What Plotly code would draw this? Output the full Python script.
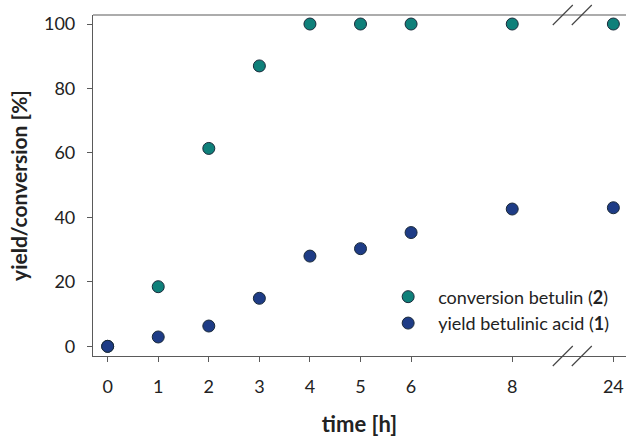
import plotly.graph_objects as go

time_h = [0, 1, 2, 3, 4, 5, 6, 8, 24]
conversion_betulin = [0, 18.5, 61.4, 87.0, 100, 100, 100, 100, 100]
yield_betulinic = [0, 2.9, 6.3, 14.9, 28.0, 30.3, 35.3, 42.6, 43.0]
x_ticklabels = ["0", "1", "2", "3", "4", "5", "6", "8", "24"]
y_ticks = [0, 20, 40, 60, 80, 100]

BREAK_AFTER = 8   # axis is broken between 8 h and 24 h
BREAK_GAP = 2     # width (in hour units) given to the break


def axis_pos(t):
    return t if t <= BREAK_AFTER else BREAK_AFTER + BREAK_GAP


xpos = [axis_pos(t) for t in time_h]

teal = "#0f807a"
navy = "#1e3c86"
edge = "#1a2a3a"
font_family = "Lato, 'Open Sans', sans-serif"

fig = go.Figure()
fig.add_trace(go.Scatter(
    x=xpos, y=conversion_betulin, mode="markers",
    name="conversion betulin (<b>2</b>)",
    marker=dict(size=12, color=teal, line=dict(color=edge, width=1)),
))
fig.add_trace(go.Scatter(
    x=xpos, y=yield_betulinic, mode="markers",
    name="yield betulinic acid (<b>1</b>)",
    marker=dict(size=12, color=navy, line=dict(color=edge, width=1)),
))

axis_col = "#5a5a5a"
fig.update_layout(
    width=627, height=437,
    margin=dict(l=93, r=1, t=15, b=81),
    paper_bgcolor="white", plot_bgcolor="white",
    font=dict(family=font_family, color="#222222", size=18),
    showlegend=True,
    legend=dict(x=0.535, y=0.135, xanchor="left", yanchor="middle",
                font=dict(size=18, color="#222222"),
                bgcolor="rgba(0,0,0,0)", itemwidth=50,
                tracegroupgap=0),
    xaxis=dict(
        range=[-0.29, 10.25], tickmode="array",
        tickvals=xpos, ticktext=x_ticklabels,
        showline=True, linecolor=axis_col, linewidth=1.2,
        mirror=False, showgrid=False, zeroline=False,
        ticks="outside", ticklen=5, tickcolor=axis_col,
        tickfont=dict(size=18), ticklabelstandoff=9,
        title=dict(text="<b>time [h]</b>", font=dict(size=22), standoff=25),
    ),
    yaxis=dict(
        range=[-3.0, 102.8], tickmode="array", tickvals=y_ticks,
        showline=True, linecolor=axis_col, linewidth=1.2,
        showgrid=False, zeroline=False,
        ticks="outside", ticklen=5, tickcolor=axis_col,
        tickfont=dict(size=18), ticklabelstandoff=8,
        title=dict(text="<b>yield/conversion [%]</b>", font=dict(size=21), standoff=10),
    ),
)

# top border line
fig.add_shape(type="line", xref="paper", yref="paper", x0=0, x1=1, y0=1, y1=1,
              line=dict(color=axis_col, width=1.2))

# break markers "//" on top and bottom axis lines
break_center = (BREAK_AFTER + BREAK_AFTER + BREAK_GAP) / 2
for yy in (0, 1):
    for dx in (0, 19):
        fig.add_shape(type="line", xref="x", yref="paper",
                      xsizemode="pixel", ysizemode="pixel",
                      xanchor=break_center, yanchor=yy,
                      x0=dx - 10, x1=dx + 10, y0=-10, y1=10,
                      line=dict(color="#444444", width=1.2))

fig.write_html("out.html")
